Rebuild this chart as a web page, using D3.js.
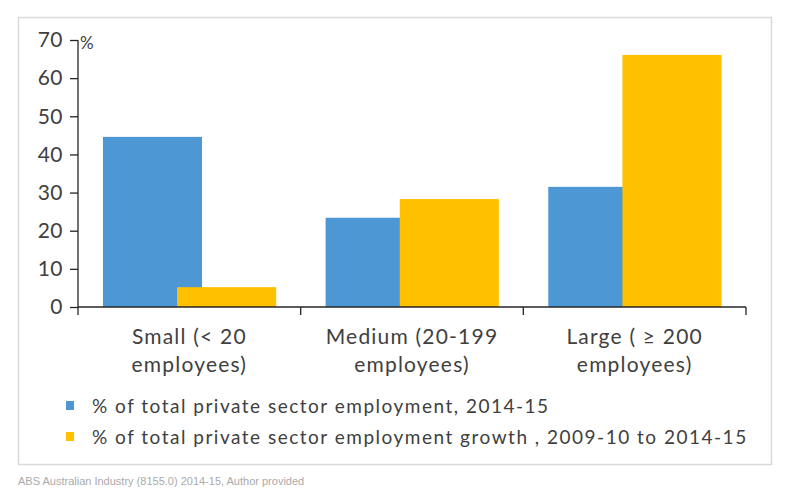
<!DOCTYPE html>
<html><head><meta charset="utf-8">
<script src="https://cdn.jsdelivr.net/npm/d3@7"></script>
<style>body{margin:0;background:#fff;} svg{display:block;}</style>
</head><body>
<script>
const categories = [["Small (< 20", "employees)"], ["Medium (20-199", "employees)"], ["Large ( \u2265 200", "employees)"]];
const employmentShare = [44.6, 23.4, 31.5];
const growthShare = [5.2, 28.3, 66.1];
const seriesNames = ["% of total private sector employment, 2014-15", "% of total private sector employment growth , 2009-10 to 2014-15"];
const seriesColors = ["#4e97d5", "#ffc000"];
const yTicks = [0, 10, 20, 30, 40, 50, 60, 70];
const source = "ABS Australian Industry (8155.0) 2014-15, Author provided";

const W = 790, H = 500;
const svg = d3.select("body").append("svg").attr("width", W).attr("height", H);
const font = "Lato, 'Open Sans', sans-serif";
const txt = "#404040";

svg.append("rect").attr("x", 18.5).attr("y", 17.5).attr("width", 753).attr("height", 447)
  .attr("fill", "#fff").attr("stroke", "#d9d9d9").attr("stroke-width", 1.5);

const x0 = 78, x1 = 746, yBase = 307, yTop = 40;
const x = d3.scaleBand().domain(d3.range(categories.length)).range([x0, x1]).paddingInner(0).paddingOuter(0);
const y = d3.scaleLinear().domain([0, 70]).range([yBase, yTop]);

const bw = x.bandwidth();
const barW = bw * 0.445, off = bw * 0.112, step = bw * 0.333;

const series = [employmentShare, growthShare];
series.forEach((vals, s) => {
  svg.append("g").selectAll("rect").data(vals).join("rect")
    .attr("x", (d, i) => x(i) + off + s * step)
    .attr("width", barW)
    .attr("y", d => y(d))
    .attr("height", d => yBase - y(d))
    .attr("fill", seriesColors[s]);
});

// y axis
const ya = svg.append("g").attr("transform", `translate(${x0},0)`)
  .call(d3.axisLeft(y).tickValues(yTicks).tickSize(8).tickPadding(7));
ya.select(".domain").attr("stroke", "#262626").attr("stroke-width", 1.3).attr("d", `M0,${yTop}V${yBase}`);
ya.selectAll(".tick line").attr("stroke", "#262626").attr("stroke-width", 1.3);
ya.selectAll("text").attr("font-family", font).attr("font-size", 21).attr("fill", txt).attr("letter-spacing", 0.5);

svg.append("text").attr("x", 80).attr("y", 49).text("%")
  .attr("font-family", font).attr("font-size", 17).attr("fill", txt);

// x axis
const xa = svg.append("g").attr("transform", `translate(0,${yBase})`);
xa.append("line").attr("x1", x0).attr("x2", x1).attr("stroke", "#262626").attr("stroke-width", 1.3);
xa.selectAll("line.t").data(d3.range(categories.length + 1)).join("line").attr("class", "t")
  .attr("x1", i => x0 + i * bw).attr("x2", i => x0 + i * bw)
  .attr("y1", 0).attr("y2", 8).attr("stroke", "#262626").attr("stroke-width", 1.3);

categories.forEach((lines, i) => {
  const t = svg.append("text").attr("text-anchor", "middle")
    .attr("font-family", font).attr("font-size", 21).attr("fill", txt).attr("letter-spacing", 1.2);
  lines.forEach((l, k) => {
    t.append("tspan").attr("x", x(i) + bw / 2).attr("y", 344 + k * 28).text(l);
  });
});

// legend
seriesNames.forEach((n, s) => {
  const yy = 406 + s * 31;
  svg.append("rect").attr("x", 66).attr("y", yy - 5).attr("width", 8).attr("height", 9).attr("fill", seriesColors[s]);
  svg.append("text").attr("x", 92).attr("y", yy + 7).text(n)
    .attr("font-family", font).attr("font-size", 19).attr("fill", txt).attr("letter-spacing", 1.5);
});

svg.append("text").attr("x", 18).attr("y", 485).text(source)
  .attr("font-family", "'Liberation Sans', Arial, sans-serif").attr("font-size", 11).attr("fill", "#aaaaaa");
</script>
</body></html>
